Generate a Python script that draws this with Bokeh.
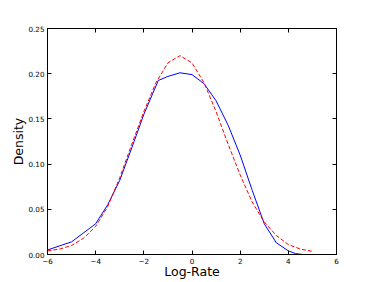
from bokeh.plotting import figure
from bokeh.models import Range1d, FixedTicker, LinearAxis
from bokeh.embed import file_html
from bokeh.resources import INLINE

# Blue (solid) density estimate
blue_x = [-6.0, -5.0, -4.0, -3.5, -3.0, -2.5, -2.0, -1.4, -1.0, -0.5, 0.0, 0.5, 1.0, 1.5, 2.0, 2.5, 3.0, 3.5, 4.0, 4.3, 4.6]
blue_y = [0.005, 0.014, 0.034, 0.055, 0.082, 0.118, 0.155, 0.1925, 0.197, 0.201, 0.199, 0.189, 0.170, 0.143, 0.110, 0.071, 0.034, 0.013, 0.004, 0.001, 0.0]

# Red (dashed) reference density
red_x = [-6.0, -5.5, -5.0, -4.5, -4.0, -3.5, -3.0, -2.5, -2.0, -1.5, -1.0, -0.5, 0.0, 0.5, 1.0, 1.5, 2.0, 2.5, 3.0, 3.5, 4.0, 4.5, 5.0]
red_y = [0.004, 0.006, 0.010, 0.018, 0.031, 0.053, 0.085, 0.122, 0.158, 0.190, 0.212, 0.220, 0.212, 0.190, 0.158, 0.122, 0.088, 0.058, 0.036, 0.021, 0.011, 0.006, 0.0035]

x_ticks = [-6, -4, -2, 0, 2, 4, 6]
x_tick_labels = ["\u22126", "\u22124", "\u22122", "0", "2", "4", "6"]
y_ticks = [0.0, 0.05, 0.10, 0.15, 0.20, 0.25]
y_tick_labels = ["0.00", "0.05", "0.10", "0.15", "0.20", "0.25"]

FONT = "DejaVu Sans"

p = figure(frame_width=289, frame_height=226, output_backend="svg", toolbar_location=None,
           x_range=Range1d(-6, 6), y_range=Range1d(0, 0.25),
           min_border_left=47, min_border_right=38, min_border_top=28, min_border_bottom=28)
p.grid.visible = False
p.outline_line_color = "black"
p.outline_line_width = 1
p.background_fill_color = "white"
p.border_fill_color = "white"

p.line(blue_x, blue_y, line_color="blue", line_width=1)
p.line(red_x, red_y, line_color="red", line_width=1, line_dash="4 2")

def style(ax, ticks, labels, show_labels=True):
    ax.ticker = FixedTicker(ticks=ticks)
    ax.major_tick_in = 4
    ax.major_tick_out = 0
    ax.minor_tick_line_color = None
    ax.axis_line_color = "black"
    ax.major_tick_line_color = "black"
    ax.major_label_text_font = FONT
    ax.major_label_text_font_size = "7.2px"
    ax.major_label_text_color = "black"
    ax.major_label_standoff = 3
    if show_labels:
        ax.major_label_overrides = {t: l for t, l in zip(ticks, labels)}
    else:
        ax.major_label_overrides = {t: "" for t in ticks}
        ax.major_label_standoff = 0

xa = p.xaxis[0]
ya = p.yaxis[0]
style(xa, x_ticks, x_tick_labels)
style(ya, y_ticks, y_tick_labels)
xa.axis_label = "Log-Rate"
ya.axis_label = "Density"
for ax in (xa, ya):
    ax.axis_label_text_font = FONT
    ax.axis_label_text_font_size = "12.5px"
    ax.axis_label_text_font_style = "normal"
    ax.axis_label_text_color = "black"
ya.axis_label_standoff = -1
xa.axis_label_standoff = -3

top = LinearAxis()
style(top, x_ticks, x_tick_labels, show_labels=False)
p.add_layout(top, "above")
right = LinearAxis()
style(right, y_ticks, y_tick_labels, show_labels=False)
p.add_layout(right, "right")

open("out.html", "w").write(file_html(p, INLINE))
